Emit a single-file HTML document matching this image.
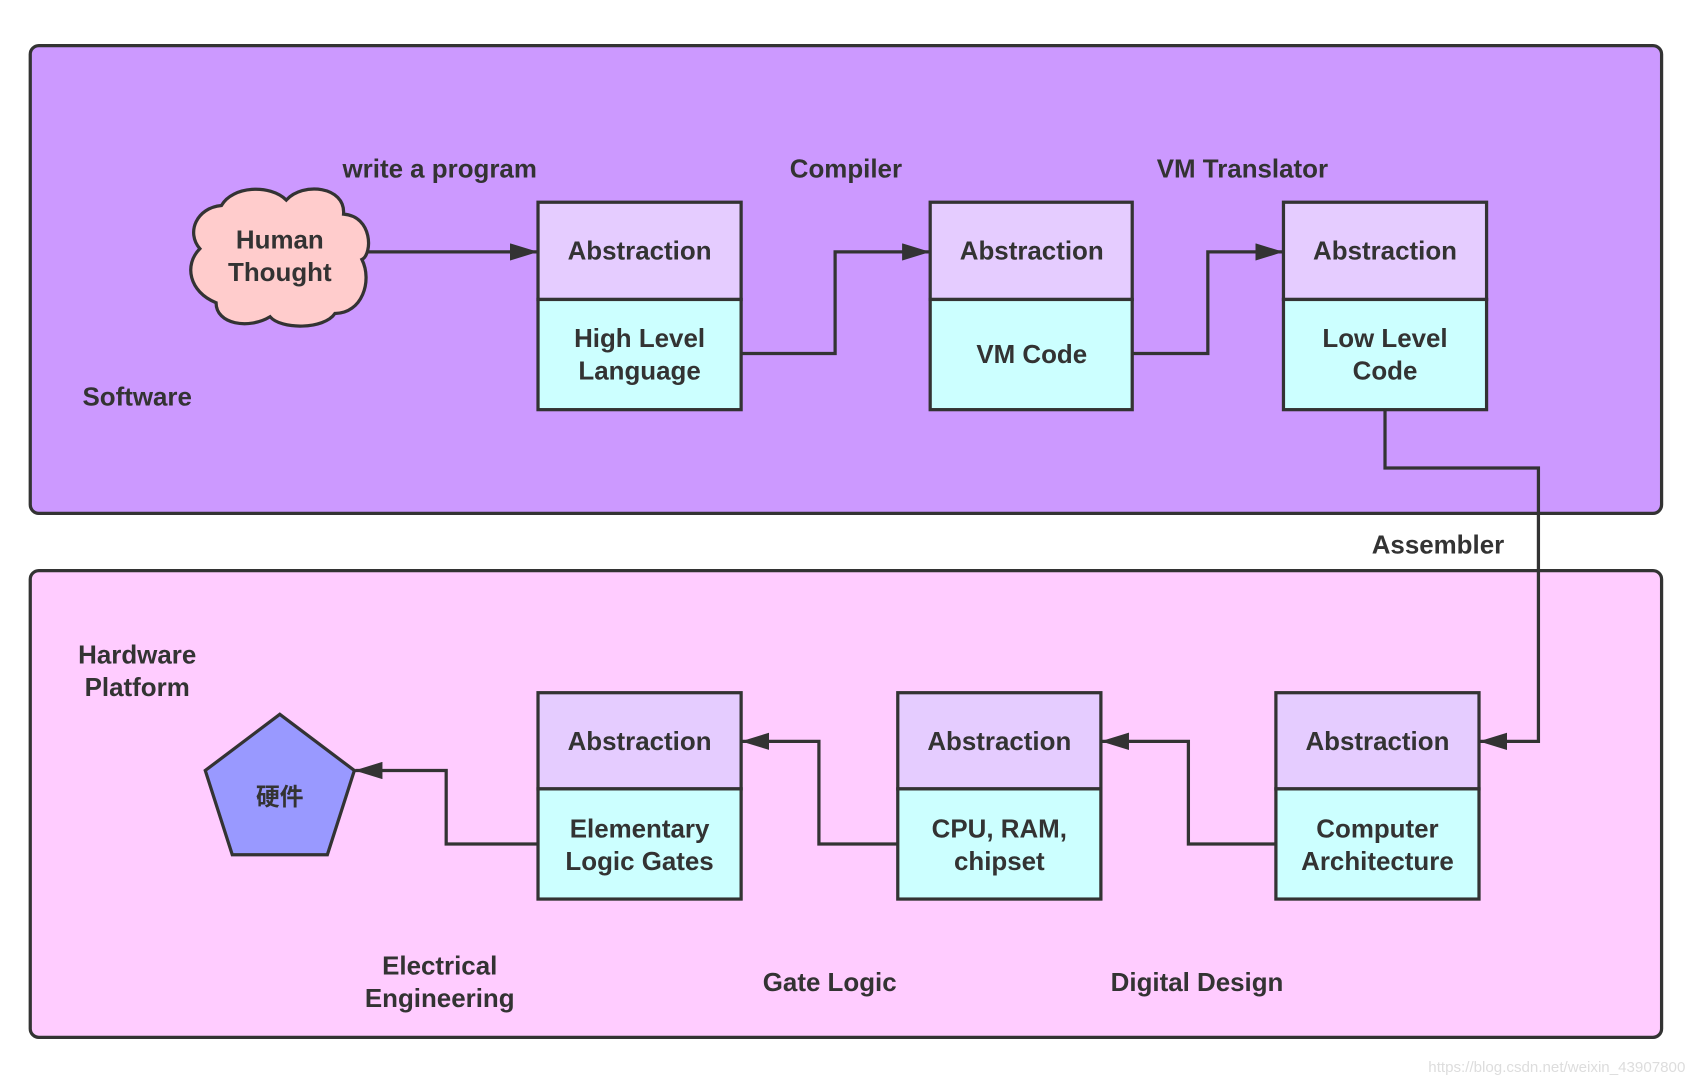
<!DOCTYPE html>
<html><head><meta charset="utf-8"><style>html,body{margin:0;padding:0;background:#fff}svg{display:block}</style></head>
<body>
<svg width="1694" height="1084" viewBox="0 0 1568 1003" xmlns="http://www.w3.org/2000/svg" font-family="'Liberation Sans','Noto Sans CJK SC',sans-serif" font-weight="bold" font-size="24" fill="#333">
<defs>
<marker id="b" markerWidth="26" markerHeight="16" refX="25" refY="8" orient="auto" markerUnits="userSpaceOnUse"><path d="M0,0 L26,8 L0,16 z" fill="#333"/></marker></defs>
<rect x="28" y="42" width="1510" height="433" rx="8" fill="#cc99ff" stroke="#333" stroke-width="3"/>
<rect x="28" y="528" width="1510" height="432" rx="8" fill="#ffccff" stroke="#333" stroke-width="3"/>
<path d="M205,190 C215,172 250,170 265,185 C280,168 320,172 318,198 C345,200 345,235 335,240 C345,260 335,290 310,290 C300,305 260,305 250,293 C230,305 200,300 200,280 C175,270 170,245 185,230 C172,215 182,192 205,190 Z" fill="#ffcccc" stroke="#333" stroke-width="3"/>
<text x="259" y="230" text-anchor="middle">Human</text>
<text x="259" y="260" text-anchor="middle">Thought</text>
<g stroke="#333" stroke-width="3">
<rect x="498" y="187" width="188" height="90" fill="#e5ccff"/><rect x="498" y="277" width="188" height="102" fill="#ccffff"/>
<rect x="861" y="187" width="187" height="90" fill="#e5ccff"/><rect x="861" y="277" width="187" height="102" fill="#ccffff"/>
<rect x="1188" y="187" width="188" height="90" fill="#e5ccff"/><rect x="1188" y="277" width="188" height="102" fill="#ccffff"/>
<rect x="498" y="641" width="188" height="89" fill="#e5ccff"/><rect x="498" y="730" width="188" height="102" fill="#ccffff"/>
<rect x="831" y="641" width="188" height="89" fill="#e5ccff"/><rect x="831" y="730" width="188" height="102" fill="#ccffff"/>
<rect x="1181" y="641" width="188" height="89" fill="#e5ccff"/><rect x="1181" y="730" width="188" height="102" fill="#ccffff"/>
<polygon points="259,661 328,713 303,791 215,791 190,713" fill="#9999ff"/>
<g fill="none" marker-end="url(#b)">
<path d="M340,233 H497"/>
<path d="M686,327 H773 V233 H860"/>
<path d="M1048,327 H1118 V233 H1187"/>
<path d="M1282,379 V433 H1424 V686 H1370"/>
<path d="M1181,781 H1100 V686 H1020"/>
<path d="M831,781 H758 V686 H687"/>
<path d="M498,781 H413 V713 H329"/>
</g></g>
<g text-anchor="middle">
<text x="592" y="240">Abstraction</text><text x="592" y="321">High Level</text><text x="592" y="351">Language</text>
<text x="955" y="240">Abstraction</text><text x="955" y="336">VM Code</text>
<text x="1282" y="240">Abstraction</text><text x="1282" y="321">Low Level</text><text x="1282" y="351">Code</text>
<text x="592" y="694">Abstraction</text><text x="592" y="775">Elementary</text><text x="592" y="805">Logic Gates</text>
<text x="925" y="694">Abstraction</text><text x="925" y="775">CPU, RAM,</text><text x="925" y="805">chipset</text>
<text x="1275" y="694">Abstraction</text><text x="1275" y="775">Computer</text><text x="1275" y="805">Architecture</text>
<text x="259" y="745" font-size="22">硬件</text>
<text x="407" y="164">write a program</text>
<text x="783" y="164">Compiler</text>
<text x="1150" y="164">VM Translator</text>
<text x="127" y="375">Software</text>
<text x="1331" y="512">Assembler</text>
<text x="127" y="614">Hardware</text><text x="127" y="644">Platform</text>
<text x="407" y="902">Electrical</text><text x="407" y="932">Engineering</text>
<text x="768" y="917">Gate Logic</text>
<text x="1108" y="917">Digital Design</text>
</g>
<text x="1560" y="992" text-anchor="end" font-size="14" font-weight="normal" fill="#ddd">https://blog.csdn.net/weixin_43907800</text>
</svg>
</body></html>
